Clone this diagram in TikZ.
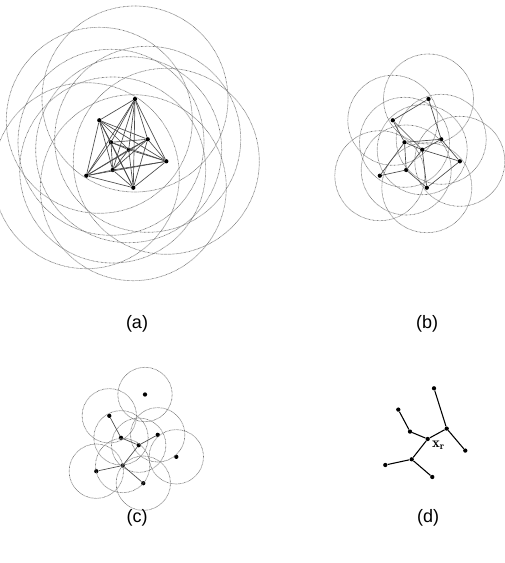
\documentclass[tikz,border=0pt]{standalone}
\usepackage{fontspec}
\setsansfont{Liberation Sans}
\begin{document}
\begin{tikzpicture}[x=0.75pt,y=-0.75pt,
  dot/.style={circle,fill=black,inner sep=0pt,minimum size=3.2pt},
  rng/.style={draw=black!55,dash pattern=on 0.5pt off 0.5pt,line width=0.5pt},
  link/.style={draw=black!70,line width=0.5pt},
  tree/.style={draw=black,line width=0.8pt},
  lab/.style={font=\sffamily\fontsize{13.5}{16}\selectfont}]
\useasboundingbox (0,0) rectangle (505,563);
\def\pts{1/135/99, 2/99.3/120.3, 3/111/142.3, 4/147.7/139.3, 5/128.7/149.7, 6/166.3/161.3, 7/112.7/170, 8/86.3/175.7, 9/133.3/187.7}
\foreach \pn/\dx/\dy in {a/0/0, b/293.5/0, c/10/295.5, d/299/289.3} {
  \foreach \i/\x/\y in \pts {
    \node[dot] (\pn\i) at (\x+\dx,\y+\dy) {};
  }
}
% ranges
\foreach \i in {1,...,9} {
  \draw[rng] (a\i.center) circle[radius=69.75pt];
  \draw[rng] (b\i.center) circle[radius=33.75pt];
  \draw[rng] (c\i.center) circle[radius=20.4pt];
}
% (a) complete graph
\foreach \i in {1,...,9} {
  \foreach \j in {1,...,9} {
    \ifnum\i<\j \draw[link] (a\i) -- (a\j);\fi
  }
}
% (b)
\foreach \u/\v in {1/2,1/4,2/3,2/5,3/4,3/5,3/7,3/8,4/5,4/6,5/6,5/7,5/9,6/9,7/8,7/9}
  \draw[link] (b\u) -- (b\v);
% (c)
\foreach \u/\v in {2/3,3/5,4/5,5/7,7/8,7/9}
  \draw[link] (c\u) -- (c\v);
% (d)
\foreach \u/\v in {1/4,4/6,4/5,5/3,3/2,5/7,7/8,7/9}
  \draw[tree] (d\u) -- (d\v);
\node[font=\fontsize{11}{12}\selectfont] (xr) at (438.5,445) {$\mathbf{x}_{\mathbf{r}}$};
% labels
\node[lab] (la) at (137,324) {(a)};
\node[lab] (lb) at (427,324) {(b)};
\node[lab] (lc) at (137,518) {(c)};
\node[lab] (ld) at (428,518) {(d)};
\end{tikzpicture}
\end{document}
